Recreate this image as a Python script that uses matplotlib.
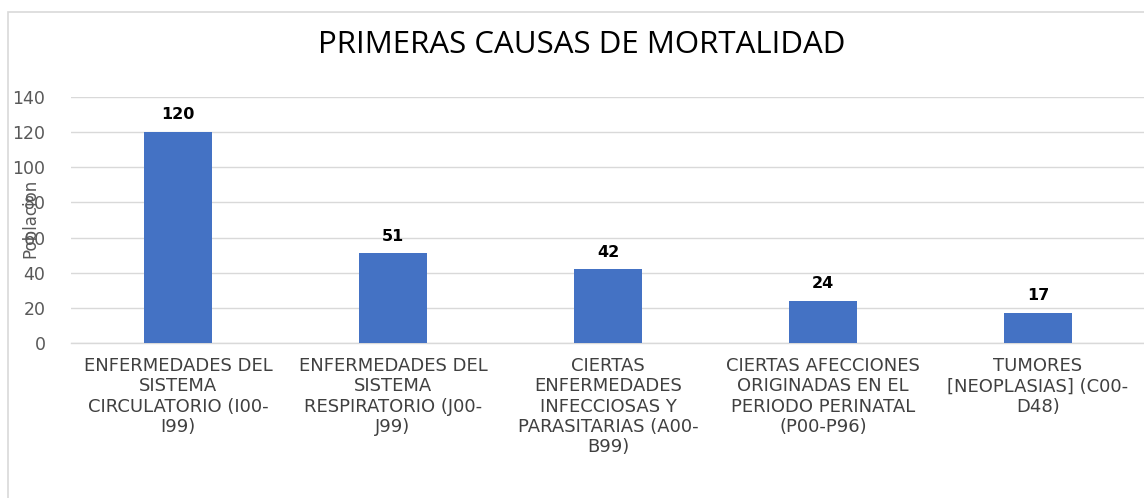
import matplotlib.pyplot as plt
from matplotlib.patches import Rectangle

categories = [
    "ENFERMEDADES DEL\nSISTEMA\nCIRCULATORIO (I00-\nI99)",
    "ENFERMEDADES DEL\nSISTEMA\nRESPIRATORIO (J00-\nJ99)",
    "CIERTAS\nENFERMEDADES\nINFECCIOSAS Y\nPARASITARIAS (A00-\nB99)",
    "CIERTAS AFECCIONES\nORIGINADAS EN EL\nPERIODO PERINATAL\n(P00-P96)",
    "TUMORES\n[NEOPLASIAS] (C00-\nD48)",
]
deaths = [120, 51, 42, 24, 17]
yticks = [0, 20, 40, 60, 80, 100, 120, 140]

plt.rcParams["font.family"] = ["DejaVu Sans"]

fig = plt.figure(figsize=(11.44, 4.98), dpi=100)
W, H = 1144, 498

# chart frame
fig.patches.append(Rectangle((8 / W, -0.1), 1.2, (H - 12) / H + 0.1,
                             transform=fig.transFigure, fill=False,
                             edgecolor="#d9d9d9", linewidth=1.2))

ax = fig.add_axes([70.5 / W, 155 / H, 1075 / W, 246 / H])
x = range(len(deaths))
ax.bar(x, deaths, width=0.316, color="#4472C4", zorder=3)
for xi, v in zip(x, deaths):
    ax.text(xi, v + 5.5, str(v), ha="center", va="bottom",
            fontsize=11.5, fontweight="bold", color="#000000")

ax.set_xlim(-0.5, len(deaths) - 0.5)
ax.set_ylim(0, 140)
ax.set_yticks(yticks)
ax.tick_params(axis="y", length=0, labelsize=12.5, labelcolor="#595959", pad=18)
ax.set_xticks(list(x))
ax.set_xticklabels(categories, fontsize=13, color="#404040", linespacing=1.17)
ax.tick_params(axis="x", length=0, pad=10)
ax.grid(axis="y", color="#d9d9d9", linewidth=1, zorder=0)
for s in ["top", "right", "left"]:
    ax.spines[s].set_visible(False)
ax.spines["bottom"].set_color("#d9d9d9")
ax.spines["bottom"].set_linewidth(1)

fig.text(30 / W, 1 - 218 / H, "Poblacion", rotation=90, ha="center", va="center",
         fontsize=12, color="#595959")
fig.text(582 / W, 1 - 45 / H, "PRIMERAS CAUSAS DE MORTALIDAD", ha="center", va="center",
         fontsize=22.5, family=["Open Sans", "DejaVu Sans"], color="#000000")

fig.savefig("out.png", dpi=100, facecolor="white")
